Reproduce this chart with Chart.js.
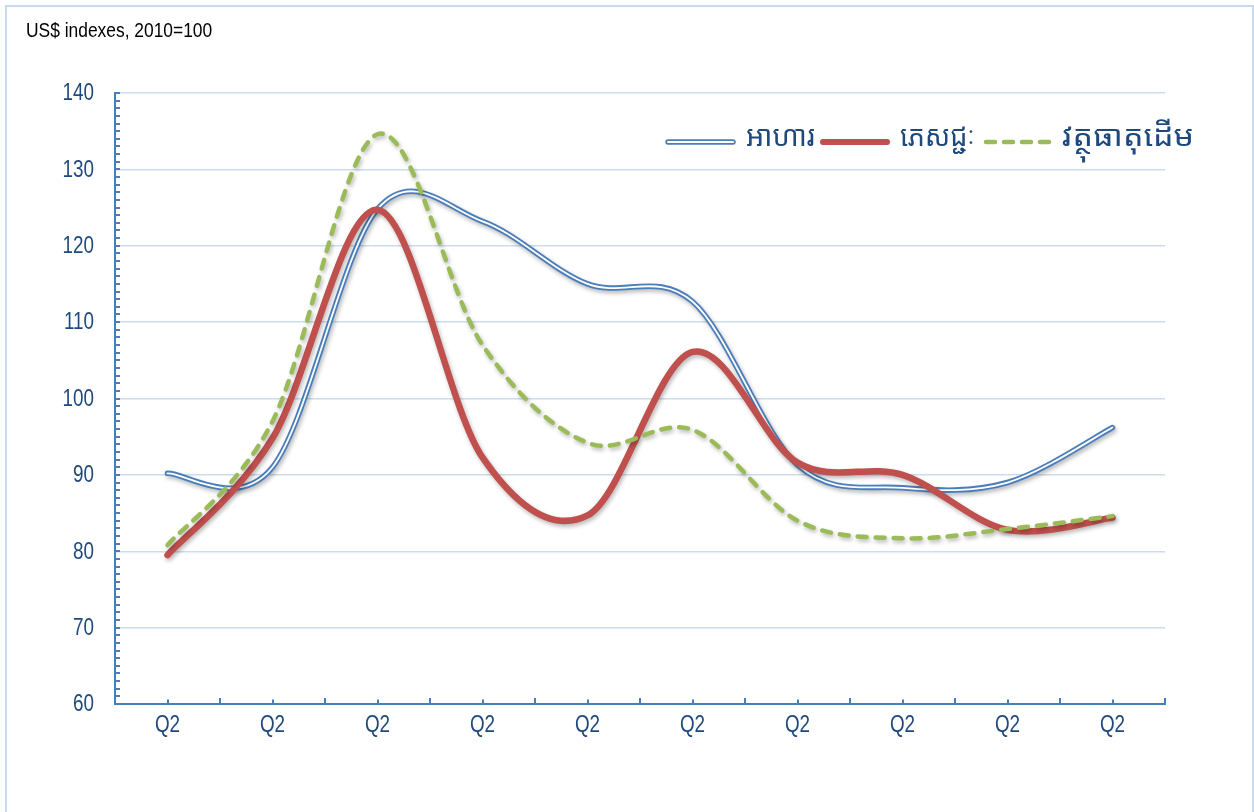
<!DOCTYPE html>
<html>
<head>
<meta charset="utf-8">
<script src="https://cdn.jsdelivr.net/npm/chart.js@4.4.1/dist/chart.umd.min.js"></script>
<style>
  html, body { margin: 0; padding: 0; background: #ffffff; }
  #wrap { width: 1254px; height: 812px; position: relative; }
</style>
</head>
<body>
<div id="wrap"><canvas id="c" width="1254" height="812"></canvas></div>
<script>
// ---- Data ----
const categories = ['Q2', 'Q2', 'Q2', 'Q2', 'Q2', 'Q2', 'Q2', 'Q2', 'Q2', 'Q2'];
const foodValues = [90.2, 91.0, 124.8, 123.2, 115.0, 112.7, 91.3, 88.3, 89.0, 96.2];
const beverageValues = [79.5, 94.8, 124.7, 92.3, 84.7, 106.1, 91.6, 90.0, 82.8, 84.4];
const rawMaterialValues = [80.8, 97.0, 134.6, 107.0, 94.2, 95.9, 84.0, 81.7, 82.9, 84.6];
const seriesNames = ['អាហារ', 'ភេសជ្ជៈ', 'វត្ថុធាតុដើម'];
const yTicks = { min: 60, max: 140, step: 10, minorStep: 1 };
const titleText = 'US$ indexes, 2010=100';

const BLUE = '#4a7ebb';
const RED = '#c0504d';
const GREEN = '#9bbb59';
const TEXT_BLUE = '#1f497d';
const GRID = '#cddcef';
const FONT = "'Liberation Sans', Arial, sans-serif";
const KHMER_FONT = "'Khmer OS', 'Noto Sans Khmer', 'Noto Sans', 'DejaVu Sans', sans-serif";
const NARROW = 0.82;

function narrowText(ctx, text, x, y, size, color, align, baseline, squeeze) {
  ctx.save();
  ctx.translate(x, y);
  ctx.scale(squeeze, 1);
  ctx.font = size + 'px ' + FONT;
  ctx.fillStyle = color;
  ctx.textAlign = align;
  ctx.textBaseline = baseline;
  ctx.fillText(text, 0, 0);
  ctx.restore();
}

// ---- Plugins ----
// Uniform Catmull-Rom smoothing (spreadsheet-style smoothed lines) on the library's own points
const smoothPlugin = {
  id: 'uniformSpline',
  beforeDatasetsDraw(chart) {
    chart.getSortedVisibleDatasetMetas().forEach(meta => {
      const pts = meta.data;
      for (let i = 0; i < pts.length; i++) {
        const p = pts[i];
        const prev = pts[i - 1] || p;
        const next = pts[i + 1] || p;
        const dx = (next.x - prev.x) / 6;
        const dy = (next.y - prev.y) / 6;
        p.cp1x = p.x - dx; p.cp1y = p.y - dy;
        p.cp2x = p.x + dx; p.cp2y = p.y + dy;
      }
      if (meta.dataset) {
        meta.dataset._pointsUpdated = true;
        meta.dataset._path = undefined;
      }
    });
  }
};

const framePlugin = {
  id: 'frame',
  beforeDraw(chart) {
    const ctx = chart.ctx;
    ctx.save();
    ctx.fillStyle = '#ffffff';
    ctx.fillRect(0, 0, chart.width, chart.height);
    ctx.strokeStyle = '#c9daf0';
    ctx.lineWidth = 2;
    ctx.strokeRect(6, 6, chart.width - 7, chart.height + 40);
    ctx.restore();
    narrowText(ctx, titleText, 26, 37, 20, '#000000', 'left', 'alphabetic', 0.87);
  }
};

const ticksPlugin = {
  id: 'innerTicks',
  afterDatasetsDraw(chart) {
    const ctx = chart.ctx;
    const x = chart.scales.x, y = chart.scales.y;
    const area = chart.chartArea;
    ctx.save();
    ctx.strokeStyle = BLUE;
    ctx.lineWidth = 2;
    for (let v = yTicks.min; v <= yTicks.max + 1e-9; v += yTicks.minorStep) {
      const py = Math.round(y.getPixelForValue(v));
      ctx.beginPath();
      ctx.moveTo(area.left, py);
      ctx.lineTo(area.left + 5, py);
      ctx.stroke();
    }
    const n = categories.length;
    const w = (area.right - area.left) / n;
    for (let i = 0; i <= 2 * n; i++) {
      const px = Math.round(area.left + i * w / 2);
      const len = (i % 2 === 0) ? 6 : 4.5;
      ctx.beginPath();
      ctx.moveTo(px, area.bottom);
      ctx.lineTo(px, area.bottom - len);
      ctx.stroke();
    }
    ctx.restore();
    y.ticks.forEach((t, i) => {
      narrowText(ctx, String(t.value), area.left - 21, y.getPixelForTick(i) + 1, 23, TEXT_BLUE, 'right', 'middle', NARROW);
    });
    x.ticks.forEach((t, i) => {
      narrowText(ctx, categories[i], x.getPixelForTick(i), area.bottom + 22, 23, TEXT_BLUE, 'center', 'middle', NARROW);
    });
  }
};

const shadowPlugin = {
  id: 'lineShadow',
  beforeDatasetDraw(chart, args) {
    const ds = chart.data.datasets[args.index];
    const ctx = chart.ctx;
    ctx.save();
    if (!ds._noShadow) {
      ctx.shadowColor = 'rgba(0,0,0,0.28)';
      ctx.shadowBlur = 4;
      ctx.shadowOffsetX = 1.5;
      ctx.shadowOffsetY = 2.5;
    }
  },
  afterDatasetDraw(chart) {
    chart.ctx.restore();
  }
};

const legendPlugin = {
  id: 'customLegend',
  afterDraw(chart) {
    const ctx = chart.ctx;
    const area = chart.chartArea;
    const yLine = area.top + 49;
    const items = [
      { x0: area.right - 497, x1: area.right - 432, tx: area.right - 419, tw: 69, type: 'double' },
      { x0: area.right - 342, x1: area.right - 278, tx: area.right - 265, tw: 75, type: 'solid' },
      { x0: area.right - 179, x1: area.right - 115, tx: area.right - 103, tw: 132, type: 'dash' }
    ];
    ctx.save();
    items.forEach((it, i) => {
      ctx.beginPath();
      ctx.moveTo(it.x0, yLine);
      ctx.lineTo(it.x1, yLine);
      ctx.lineCap = 'round';
      if (it.type === 'double') {
        ctx.strokeStyle = BLUE; ctx.lineWidth = 5.5; ctx.stroke();
        ctx.beginPath(); ctx.moveTo(it.x0, yLine); ctx.lineTo(it.x1, yLine);
        ctx.strokeStyle = '#ffffff'; ctx.lineWidth = 2; ctx.stroke();
      } else if (it.type === 'solid') {
        ctx.strokeStyle = RED; ctx.lineWidth = 6; ctx.stroke();
      } else {
        ctx.setLineDash([9, 9]);
        ctx.strokeStyle = GREEN; ctx.lineWidth = 4.5; ctx.stroke();
        ctx.setLineDash([]);
      }
      ctx.font = '29px ' + KHMER_FONT;
      const mw = ctx.measureText(seriesNames[i]).width || it.tw;
      const sx = Math.max(0.85, Math.min(1.2, it.tw / mw));
      ctx.save();
      ctx.translate(it.tx, yLine - 4);
      ctx.scale(sx, 1);
      ctx.fillStyle = TEXT_BLUE;
      ctx.textBaseline = 'middle';
      ctx.textAlign = 'left';
      ctx.fillText(seriesNames[i], 0, 0);
      ctx.restore();
    });
    ctx.restore();
  }
};

// ---- Chart ----
const common = {
  pointRadius: 0,
  pointHoverRadius: 0,
  tension: 0.4,
  fill: false,
  borderCapStyle: 'round',
  borderJoinStyle: 'round'
};

new Chart(document.getElementById('c'), {
  type: 'line',
  data: {
    labels: categories,
    datasets: [
      Object.assign({ label: seriesNames[2], data: rawMaterialValues, borderColor: GREEN, borderWidth: 4.5, borderDash: [9, 9], order: 0 }, common),
      Object.assign({ label: seriesNames[1], data: beverageValues, borderColor: RED, borderWidth: 6.5, order: 1 }, common),
      Object.assign({ label: seriesNames[0] + ' inner', data: foodValues, borderColor: '#ffffff', borderWidth: 1.8, order: 2, _noShadow: true }, common),
      Object.assign({ label: seriesNames[0], data: foodValues, borderColor: BLUE, borderWidth: 5.5, order: 3 }, common)
    ]
  },
  options: {
    responsive: false,
    animation: false,
    events: [],
    layout: { padding: { top: 93, left: 0, right: 89, bottom: 0 } },
    plugins: {
      legend: { display: false },
      title: { display: false },
      tooltip: { enabled: false }
    },
    scales: {
      x: {
        offset: true,
        grid: { display: false, drawTicks: false },
        border: { display: true, color: BLUE, width: 2 },
        ticks: { color: 'rgba(0,0,0,0)', font: { family: FONT, size: 20 }, padding: 9, maxRotation: 0, autoSkip: false },
        afterFit(scale) { scale.height = 108; }
      },
      y: {
        min: yTicks.min,
        max: yTicks.max,
        grid: { color: GRID, lineWidth: 1.5, drawTicks: false },
        border: { display: true, color: BLUE, width: 2 },
        ticks: { stepSize: yTicks.step, color: 'rgba(0,0,0,0)', font: { family: FONT, size: 20 }, padding: 21 },
        afterFit(scale) { scale.width = 115; }
      }
    }
  },
  plugins: [smoothPlugin, framePlugin, shadowPlugin, ticksPlugin, legendPlugin]
});
</script>
</body>
</html>
